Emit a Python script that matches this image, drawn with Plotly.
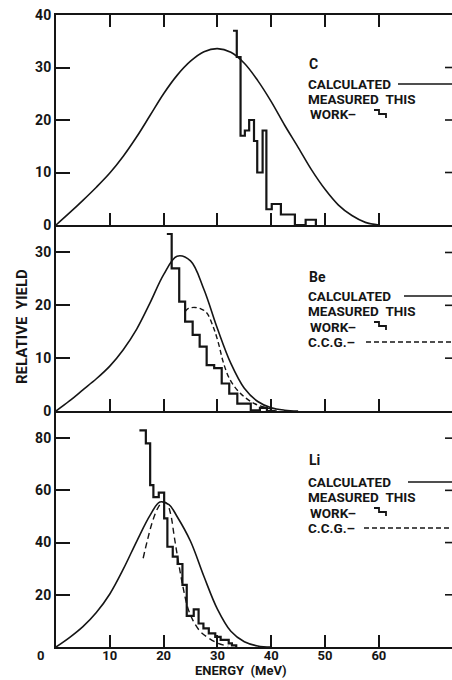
import plotly.graph_objects as go

# ---------------- data ----------------
# Carbon (top panel)
c_calc_energy = [0, 2.5, 5, 7.5, 10, 12.5, 15, 17.5, 20, 22.5, 25, 27.5, 30, 32.5, 35,
                 37.5, 40, 42.5, 45, 47.5, 50, 52.5, 55, 57.5, 60]
c_calc_yield = [0, 2.3, 4.7, 7.2, 9.9, 13.1, 16.8, 20.9, 25, 28.5, 31.2, 33, 33.6, 32.9, 30.8,
                27.5, 23.5, 19, 14.8, 10.5, 6.8, 3.8, 1.8, 0.5, 0]
c_meas_edges = [32.9, 33.6, 34.3, 35.1, 35.9, 36.8, 37.4, 38.4, 39.1, 40.1, 41.8, 44.4, 46.4, 48.3]
c_meas_yield = [37, 32, 17, 18, 20, 16, 10, 18, 3, 4, 2, 0, 1]

# Beryllium (middle panel)
be_calc_energy = [0, 2.5, 5, 7.5, 10, 12.5, 15, 17.5, 20, 22.5, 25, 27.5, 30, 32.5, 35,
                  37.5, 40, 42.5, 45]
be_calc_yield = [0, 1.9, 4, 6.1, 8.5, 11.6, 15.5, 20.5, 25.8, 29.3, 28.4, 23, 15.6, 9, 4.3,
                 1.8, 0.6, 0.15, 0]
be_meas_edges = [20.6, 21.5, 22.9, 24.0, 25.4, 26.7, 28.0, 29.4, 30.8, 32.2, 33.7, 36.2,
                 37.9, 39.2, 40.7]
be_meas_yield = [33.5, 27, 20.7, 16.9, 14.4, 12.2, 8.7, 8.1, 5.2, 3.3, 1.4, 0.1, 0.6, 0]
be_ccg_energy = [24.0, 24.6, 25.8, 27.0, 28.0, 29.2, 30.2, 31.1, 32.3, 34.2, 36.7, 39.1, 41.0]
be_ccg_yield = [18.8, 19.4, 19.6, 19.3, 18.6, 16, 12.8, 9.2, 6, 3.4, 1.5, 0.6, 0.1]

# Lithium (bottom panel)
li_calc_energy = [0, 2.5, 5, 7.5, 10, 12.5, 15, 17.5, 19.3, 21, 22.5, 25, 27.5, 30, 32.5,
                  35, 37.5, 40]
li_calc_yield = [0, 3.6, 7.8, 13.2, 20.3, 29.8, 40.5, 50.5, 55.5, 54.5, 50, 40.5, 27, 14.5, 6,
                 2, 0.4, 0]
li_meas_edges = [15.5, 16.7, 17.5, 18.1, 19.1, 20.1, 20.7, 21.7, 22.6, 23.5, 24.3, 25.6,
                 26.5, 27.4, 28.4, 29.6, 30.6, 32.1, 32.7, 33.5]
li_meas_yield = [83, 78, 62, 57.4, 59.1, 49.3, 38.4, 34.6, 31.8, 23.8, 11.9, 14.4, 9, 7.1,
                 5.2, 3.9, 2.7, 1.4, 0.6]
li_ccg_energy = [16.2, 17.0, 18.0, 19.0, 19.8, 20.6, 21.3, 22.0, 22.8, 23.6, 24.5, 25.5,
                 26.8, 28.3, 30, 32]
li_ccg_yield = [34, 41, 48.5, 53.5, 55.5, 55, 51, 42, 32, 23, 15, 10, 6, 3.5, 1.5, 0.3]

x_tick_vals = [10, 20, 30, 40, 50, 60]
x_tick_text = ["10", "20", "30", "40", "50", "60"]
top_y_ticks = [0, 10, 20, 30, 40]
mid_y_ticks = [0, 10, 20, 30]
bot_y_ticks = [20, 40, 60, 80]
top_right_ticks = [10, 20, 30]
mid_right_ticks = [10, 20, 30]
bot_right_ticks = [20, 40, 60, 80]
panel_labels = ["C", "Be", "Li"]

# ---------------- layout geometry ----------------
W, H = 452, 680
ML, MR, MT, MB = 56, 0, 15, 33
PW, PH = W - ML - MR, H - MT - MB
X_MAX = 73.6
Y_TOP = 40
Y_MID = 35.2
Y_BOT = 90.4
D1 = (H - MB - 411) / PH
D2 = (H - MB - 225) / PH
BLACK = "#151515"
FONT = "Roboto, Liberation Sans, Arial, sans-serif"


def fx(px):
    return (px - ML) / PW


def fy(py):
    return (H - MB - py) / PH


def step_xy(edges, vals):
    xs = list(edges[:-1]) + [edges[-1]]
    ys = list(vals) + [0]
    return xs, ys


fig = go.Figure()


def add_line(x, y, xa, ya, dash="solid", width=1.6, shape="spline"):
    line = dict(color=BLACK, width=width, dash=dash, shape=shape)
    if shape == "spline":
        line["smoothing"] = 1.0
    fig.add_trace(go.Scatter(
        x=x, y=y, mode="lines", xaxis=xa, yaxis=ya, line=line,
        hoverinfo="skip", showlegend=False))


# top panel (C)
add_line(c_calc_energy, c_calc_yield, "x3", "y3")
sx, sy = step_xy(c_meas_edges, c_meas_yield)
add_line(sx, sy, "x3", "y3", width=2.2, shape="hv")
# middle panel (Be)
add_line(be_calc_energy, be_calc_yield, "x2", "y2")
sx, sy = step_xy(be_meas_edges, be_meas_yield)
add_line(sx, sy, "x2", "y2", width=2.2, shape="hv")
add_line(be_ccg_energy, be_ccg_yield, "x2", "y2", dash="5px,3px", width=1.4)
# bottom panel (Li)
add_line(li_calc_energy, li_calc_yield, "x", "y")
sx, sy = step_xy(li_meas_edges, li_meas_yield)
add_line(sx, sy, "x", "y", width=2.2, shape="hv")
add_line(li_ccg_energy, li_ccg_yield, "x", "y", dash="6px,4px", width=1.4)

tickfont = dict(family=FONT, size=14, color=BLACK, weight="bold")
xtickfont = dict(family=FONT, size=13, color=BLACK, weight="bold")
common_x = dict(range=[0, X_MAX], showgrid=False, zeroline=False, showline=True,
                linecolor=BLACK, linewidth=2, ticks="inside", ticklen=12, tickwidth=1.6,
                tickcolor=BLACK, tickvals=x_tick_vals, ticktext=x_tick_text,
                tickfont=xtickfont)
common_y = dict(showgrid=False, zeroline=False, showline=True, linecolor=BLACK,
                linewidth=2, ticks="inside", ticklen=14, tickwidth=1.6, tickcolor=BLACK,
                tickfont=tickfont)

fig.update_layout(
    width=W, height=H, margin=dict(l=ML, r=MR, t=MT, b=MB),
    paper_bgcolor="white", plot_bgcolor="white",
    xaxis=dict(common_x, anchor="y", ticklabelstandoff=-5),
    xaxis2=dict(common_x, anchor="y2", matches="x", showticklabels=False),
    xaxis3=dict(common_x, anchor="y3", matches="x", showticklabels=False, mirror="ticks"),
    yaxis=dict(common_y, domain=[0, D1], range=[0, Y_BOT], tickvals=bot_y_ticks),
    yaxis2=dict(common_y, domain=[D1, D2], range=[0, Y_MID], tickvals=mid_y_ticks),
    yaxis3=dict(common_y, domain=[D2, 1], range=[0, Y_TOP], tickvals=top_y_ticks),
    showlegend=False,
)

ann = []
shapes = []

# short inward ticks on the right edge of each panel (placed through the y axes)
for xref, yref, vals in (("x domain", "y", bot_right_ticks),
                         ("x2 domain", "y2", mid_right_ticks),
                         ("x3 domain", "y3", top_right_ticks)):
    for v in vals:
        shapes.append(dict(type="line", xref=xref, yref=yref, x0=1 - 7 / PW, x1=1,
                           y0=v, y1=v, line=dict(color=BLACK, width=1.6)))


def text(px, py, s, size=14, anchor="left", yanchor="middle"):
    ann.append(dict(x=fx(px), y=fy(py), xref="paper", yref="paper", text=s,
                    showarrow=False, xanchor=anchor, yanchor=yanchor,
                    font=dict(family=FONT, size=size, color=BLACK, weight="bold")))


def hline(x0, x1, py, dash="solid"):
    shapes.append(dict(type="line", xref="paper", yref="paper", x0=fx(x0), x1=fx(x1),
                       y0=fy(py), y1=fy(py), line=dict(color=BLACK, width=1.4, dash=dash)))


def step_glyph(px, py):
    pts = [(px, py), (px + 5, py), (px + 5, py + 4), (px + 12, py + 4), (px + 12, py + 8)]
    path = "M " + " L ".join(f"{fx(a):.5f},{fy(b):.5f}" for a, b in pts)
    shapes.append(dict(type="path", xref="paper", yref="paper", path=path,
                       line=dict(color=BLACK, width=1.8)))


# legends inside panels
legend_rows = [
    # (label y, calc y, calc line start, meas y, work y, glyph y, ccg y, ccg line start)
    (64, 84, 398, 99, 114.5, 110, None, None),
    (277, 296, 404, 311, 326.5, 322, 342, 366),
    (460, 482, 408, 497, 513, 508, 528, 364),
]
for lab, (ly, cy, cx0, my, wy, gy, gy2, dx0) in zip(panel_labels, legend_rows):
    text(307, ly, lab)
    text(306, cy, "CALCULATED", size=13.5)
    hline(cx0, 452, cy)
    text(306, my, "MEASURED\u00a0\u00a0THIS", size=13.5)
    text(308, wy, "WORK\u2013", size=13.5)
    step_glyph(374, gy)
    if gy2 is not None:
        text(306, gy2, "C.C.G.\u2013", size=13.5)
        hline(dx0, 452, gy2, dash="5px,3px")

# axis titles
text(22, 327, "RELATIVE\u00a0\u00a0YIELD", size=15, anchor="center")
ann[-1]["textangle"] = -90
text(241, 680, "ENERGY\u00a0\u00a0(MeV)", size=13, anchor="center", yanchor="bottom")
text(40, 655, "0", size=13, anchor="center")

fig.update_layout(annotations=ann, shapes=shapes)
fig.write_html("out.html")
